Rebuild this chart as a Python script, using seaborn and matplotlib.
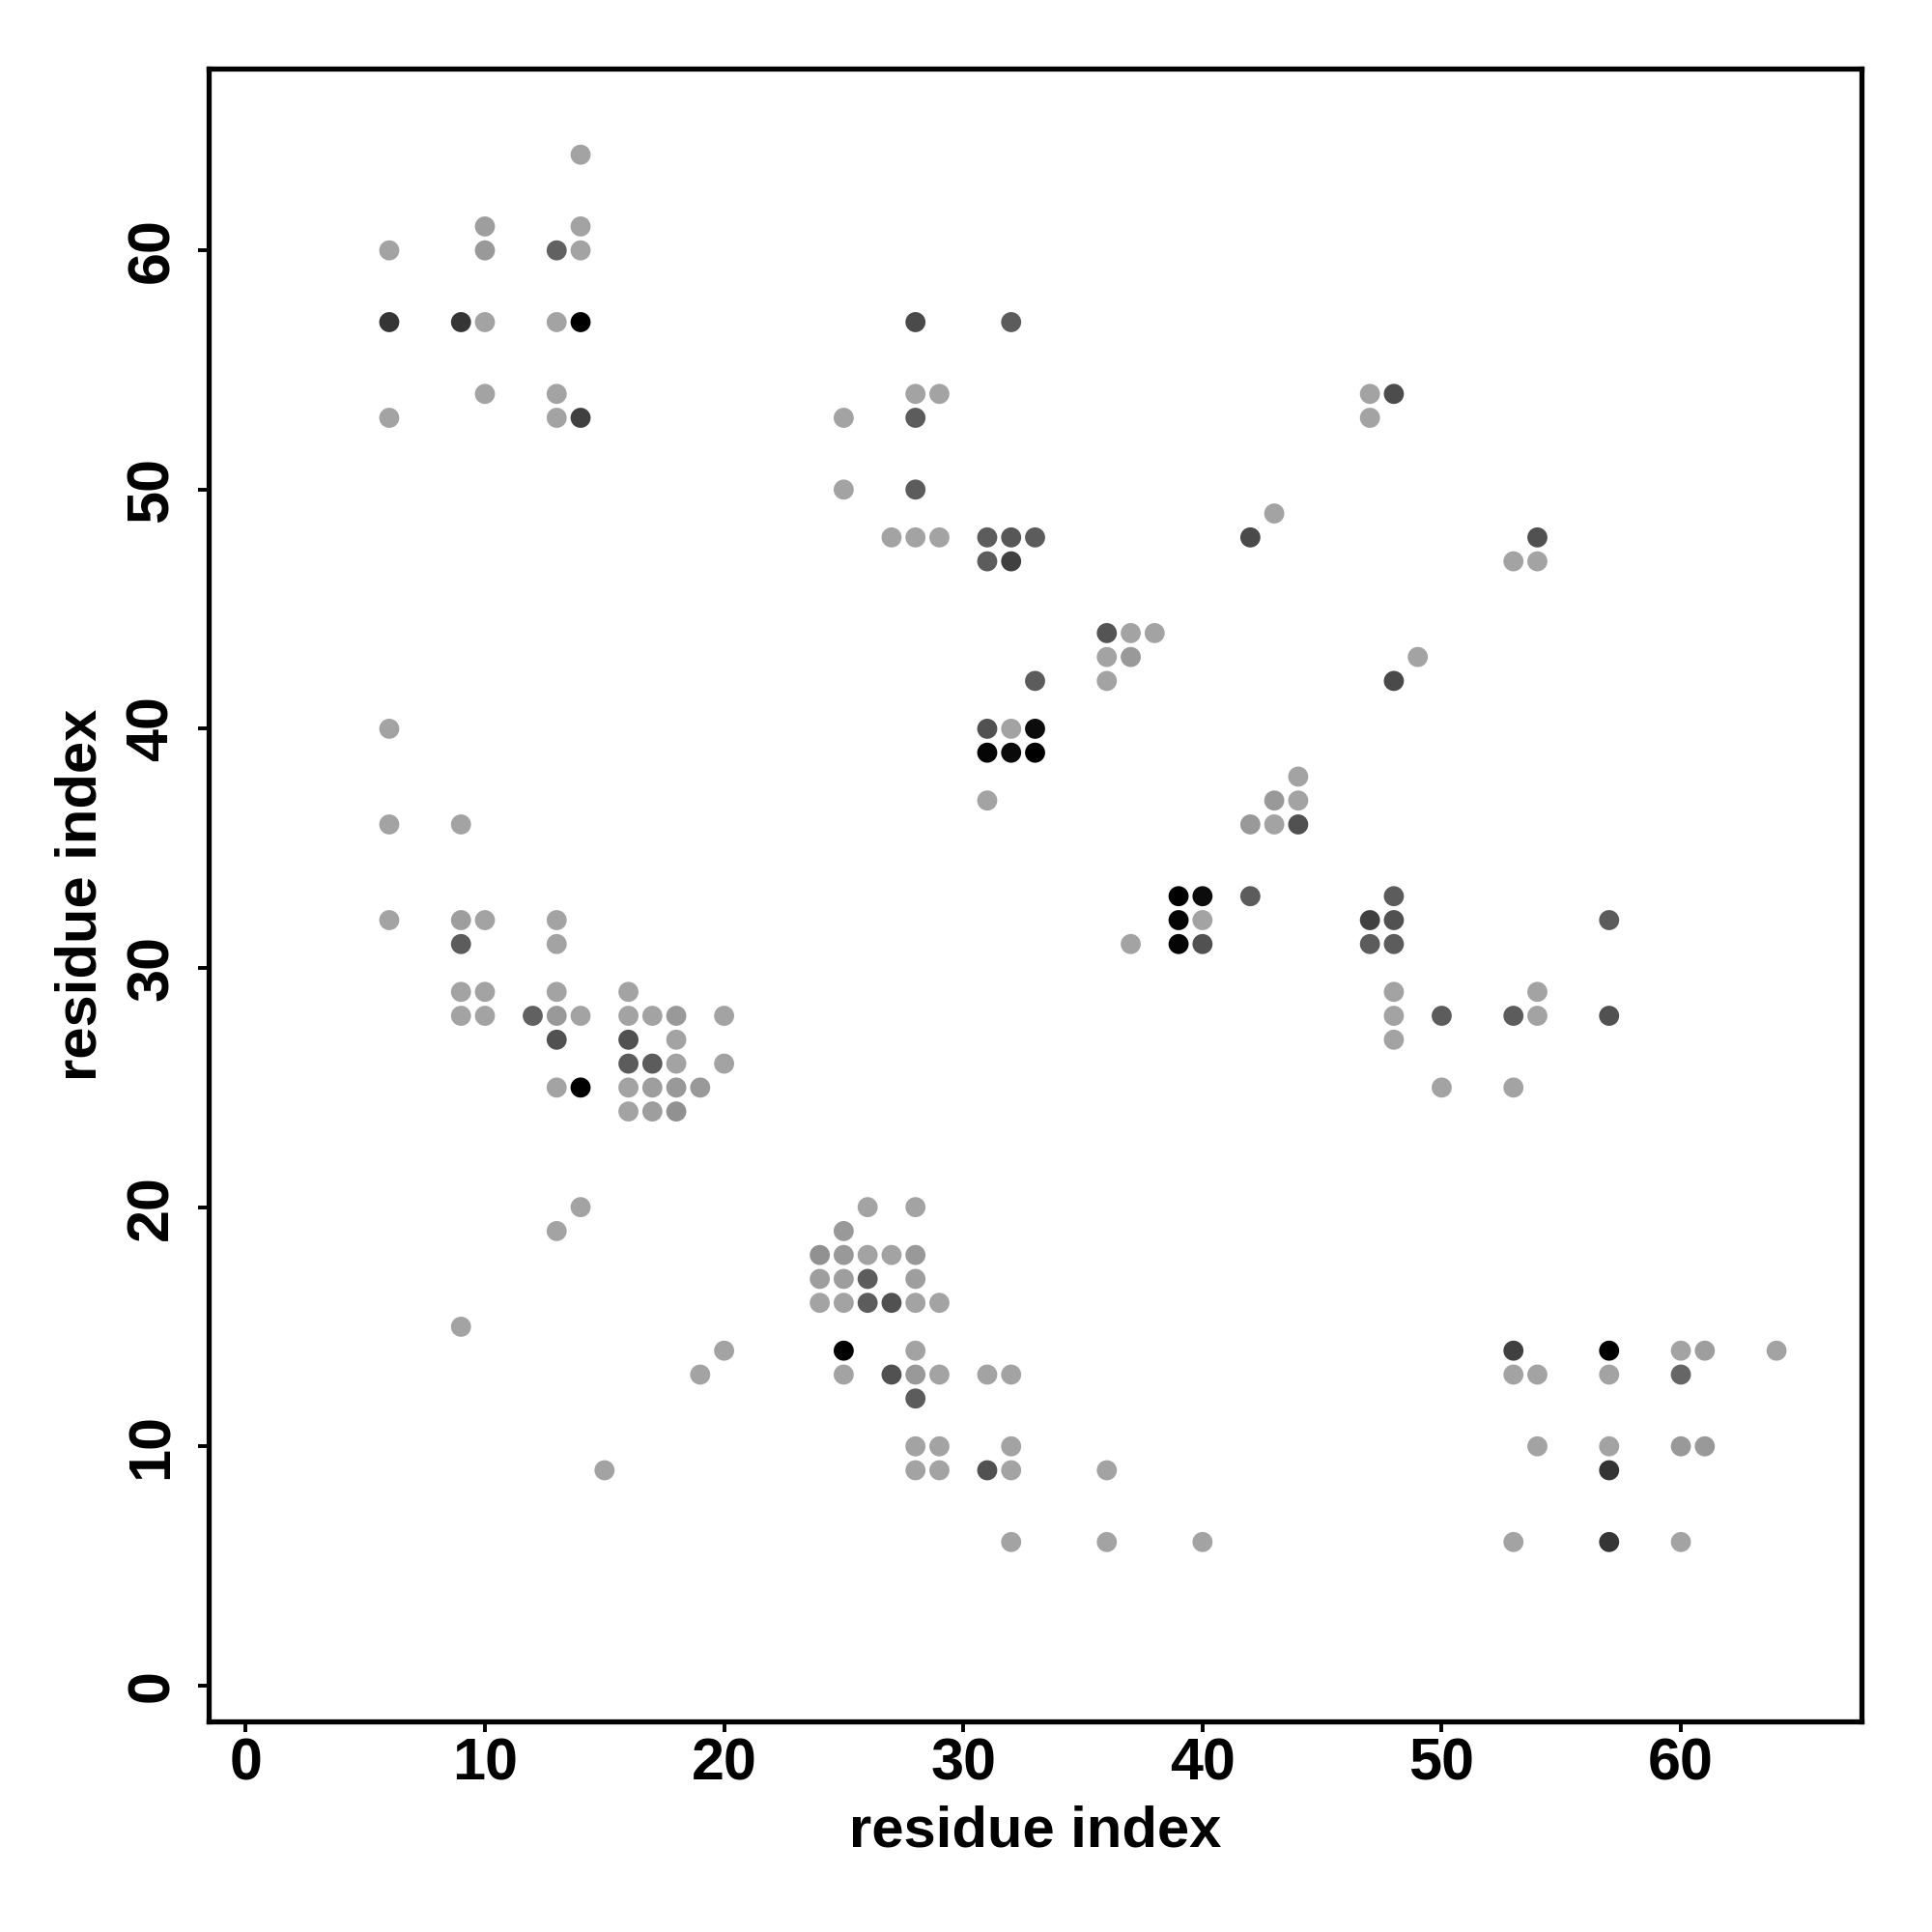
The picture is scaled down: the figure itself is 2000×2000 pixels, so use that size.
import matplotlib
matplotlib.use("Agg")
import matplotlib.pyplot as plt
import seaborn as sns
import pandas as pd

# contact pairs: residue i (x), residue j (y), grey level (0 = black, 1 = white)
contact_x = [14,
             10, 14,
             6, 10, 13, 14,
             6, 9, 10, 13, 14, 28, 32,
             10, 13, 28, 29, 47, 48,
             6, 13, 14, 25, 28, 47,
             25, 28,
             43,
             27, 28, 29, 31, 32, 33, 42, 54,
             31, 32, 53, 54,
             36, 37, 38,
             36, 37, 49,
             33, 36, 48,
             6, 31, 32, 33,
             31, 32, 33,
             44,
             31, 43, 44,
             6, 9, 42, 43, 44,
             39, 40, 42, 48,
             6, 9, 10, 13, 39, 40, 47, 48, 57,
             9, 13, 37, 39, 40, 47, 48,
             9, 10, 13, 16, 48, 54,
             9, 10, 12, 13, 14, 16, 17, 18, 20, 48, 50, 53, 54, 57,
             13, 16, 18, 48,
             16, 17, 18, 20,
             13, 14, 16, 17, 18, 19, 50, 53,
             16, 17, 18,
             14, 26, 28,
             13, 25,
             24, 25, 26, 27, 28,
             24, 25, 26, 28,
             24, 25, 26, 27, 28, 29,
             9,
             20, 25, 28, 53, 57, 60, 61, 64,
             19, 25, 27, 28, 29, 31, 32, 53, 54, 57, 60,
             28,
             28, 29, 32, 54, 57, 60, 61,
             15, 28, 29, 31, 32, 36, 57,
             32, 36, 40, 53, 57, 60]

contact_y = [64,
             61, 61,
             60, 60, 60, 60,
             57, 57, 57, 57, 57, 57, 57,
             54, 54, 54, 54, 54, 54,
             53, 53, 53, 53, 53, 53,
             50, 50,
             49,
             48, 48, 48, 48, 48, 48, 48, 48,
             47, 47, 47, 47,
             44, 44, 44,
             43, 43, 43,
             42, 42, 42,
             40, 40, 40, 40,
             39, 39, 39,
             38,
             37, 37, 37,
             36, 36, 36, 36, 36,
             33, 33, 33, 33,
             32, 32, 32, 32, 32, 32, 32, 32, 32,
             31, 31, 31, 31, 31, 31, 31,
             29, 29, 29, 29, 29, 29,
             28, 28, 28, 28, 28, 28, 28, 28, 28, 28, 28, 28, 28, 28,
             27, 27, 27, 27,
             26, 26, 26, 26,
             25, 25, 25, 25, 25, 25, 25, 25,
             24, 24, 24,
             20, 20, 20,
             19, 19,
             18, 18, 18, 18, 18,
             17, 17, 17, 17,
             16, 16, 16, 16, 16, 16,
             15,
             14, 14, 14, 14, 14, 14, 14, 14,
             13, 13, 13, 13, 13, 13, 13, 13, 13, 13, 13,
             12,
             10, 10, 10, 10, 10, 10, 10,
             9, 9, 9, 9, 9, 9, 9,
             6, 6, 6, 6, 6, 6]

contact_gray = [.64,
                .62, .64,
                .64, .60, .38, .64,
                .21, .21, .64, .64, .00, .29, .36,
                .64, .64, .64, .64, .64, .30,
                .64, .64, .25, .64, .36, .64,
                .64, .36,
                .64,
                .64, .64, .64, .36, .34, .36, .29, .32,
                .36, .25, .64, .64,
                .33, .64, .64,
                .64, .60, .64,
                .36, .64, .29,
                .64, .32, .64, .05,
                .02, .04, .00,
                .64,
                .64, .60, .64,
                .64, .64, .60, .64, .32,
                .00, .05, .36, .36,
                .64, .62, .64, .64, .02, .64, .25, .32, .36,
                .36, .64, .64, .02, .32, .36, .36,
                .64, .64, .64, .64, .64, .64,
                .64, .64, .38, .60, .64, .64, .64, .60, .64, .64, .36, .36, .64, .32,
                .32, .32, .64, .64,
                .36, .36, .64, .64,
                .64, .00, .64, .62, .60, .60, .64, .64,
                .64, .62, .57,
                .64, .64, .64,
                .64, .60,
                .57, .60, .64, .64, .60,
                .62, .62, .36, .62,
                .64, .64, .36, .32, .64, .64,
                .64,
                .64, .00, .64, .25, .00, .64, .62, .64,
                .64, .64, .32, .60, .64, .64, .64, .64, .64, .64, .40,
                .36,
                .64, .64, .64, .64, .64, .60, .60,
                .64, .64, .64, .32, .64, .64, .21,
                .64, .64, .64, .64, .21, .64]

tick_values = [0, 10, 20, 30, 40, 50, 60]
axis_label = 'residue index'

sns.set_theme(style='white')
plt.rcParams['font.family'] = ['Liberation Sans', 'DejaVu Sans']
plt.rcParams['font.weight'] = 'bold'
plt.rcParams['text.color'] = 'black'
plt.rcParams['axes.labelcolor'] = 'black'
plt.rcParams['xtick.color'] = 'black'
plt.rcParams['ytick.color'] = 'black'

df = pd.DataFrame({'i': contact_x, 'j': contact_y, 'gray': contact_gray})

fig = plt.figure(figsize=(10, 10), dpi=200)
ax = fig.add_axes([0.108, 0.109, 0.8555, 0.8555])

sns.scatterplot(data=df, x='i', y='j', hue='gray', palette='gray', hue_norm=(0, 1),
                s=56, linewidth=0, legend=False, ax=ax)

ax.set_xlim(-1.55, 67.55)
ax.set_ylim(-1.5, 67.6)
ax.set_xticks(tick_values)
ax.set_yticks(tick_values)
ax.set_xticklabels([str(v) for v in tick_values], fontsize=22, fontweight='bold')
ax.set_yticklabels([str(v) for v in tick_values], fontsize=22, fontweight='bold',
                   rotation=90, va='center')

for side in ['top', 'bottom', 'left', 'right']:
    ax.spines[side].set_visible(True)
    ax.spines[side].set_color('black')
    ax.spines[side].set_linewidth(1.9)

ax.tick_params(axis='both', which='major', direction='out', length=4, width=1.4,
               color='black', labelcolor='black',
               bottom=True, left=True, top=False, right=False)
ax.tick_params(axis='x', pad=2)
ax.tick_params(axis='y', pad=6.5)

ax.set_xlabel(axis_label, fontsize=21.5, fontweight='bold', labelpad=4.5, color='black')
ax.set_ylabel(axis_label, fontsize=21.5, fontweight='bold', labelpad=6.5, color='black')

fig.savefig('out.png', dpi=200, facecolor='white')
